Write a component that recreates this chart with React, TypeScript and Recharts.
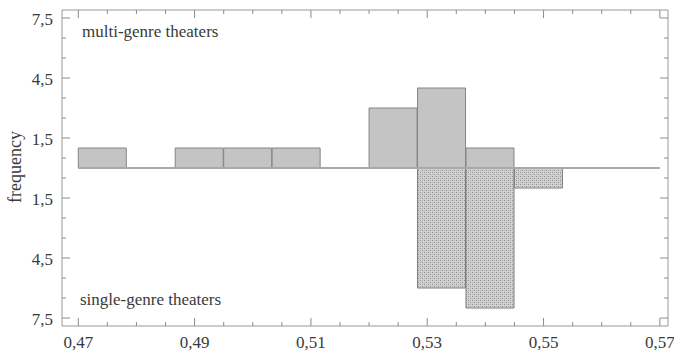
import React from 'react';
import { ComposedChart, Bar, XAxis, YAxis, ReferenceLine, Customized } from 'recharts';

// Histogram bins (centres of 12 equal bins between 0.47 and 0.57)
const binCenters = [0.474167, 0.4825, 0.490833, 0.499167, 0.5075, 0.515833, 0.524167, 0.5325, 0.540833, 0.549167, 0.5575, 0.565833];
const multiGenre = [1, 0, 1, 1, 1, 0, 3, 4, 1, 0, 0, 0];
const singleGenre = [0, 0, 0, 0, 0, 0, 0, -6, -7, -1, 0, 0];

const xMajorTicks = [0.47, 0.49, 0.51, 0.53, 0.55, 0.57];
const xMinorTicks = [0.475, 0.48, 0.485, 0.495, 0.5, 0.505, 0.515, 0.52, 0.525, 0.535, 0.54, 0.545, 0.555, 0.56, 0.565];
const yMajorTicks = [-7.5, -4.5, -1.5, 1.5, 4.5, 7.5];
const yMinorTicks = [-6.5, -5.5, -3.5, -2.5, -0.5, 0.5, 2.5, 3.5, 5.5, 6.5];

const data = binCenters.map((x, i) => ({
  x,
  multi: multiGenre[i] !== 0 ? multiGenre[i] : null,
  single: singleGenre[i] !== 0 ? singleGenre[i] : null,
}));

const allX = [...xMajorTicks, ...xMinorTicks].sort((a, b) => a - b);
const allY = [...yMajorTicks, ...yMinorTicks].sort((a, b) => a - b);

const X_DOMAIN: [number, number] = [0.4672, 0.5714];
const Y_DOMAIN: [number, number] = [-7.9, 7.9];

const AXIS = '#999999';
const TICK = '#8c8c8c';
const TEXT = '#3a3a3a';
const FONT = 'Liberation Serif, DejaVu Serif, Times New Roman, serif';
const textStyle: React.CSSProperties = { fontFamily: FONT, fontSize: 17, fill: TEXT };
const tickStyle: React.CSSProperties = { stroke: TICK, strokeWidth: 1 };

const isIn = (arr: number[], v: number) => arr.some((a) => Math.abs(a - v) < 1e-6);
const fmt = (v: number, d: number) => Math.abs(v).toFixed(d).replace('.', ',');

const BottomTick = (props: any) => {
  const { x, y, payload } = props;
  const major = isIn(xMajorTicks, payload.value);
  return (
    <g>
      <line x1={x} x2={x} y1={y} y2={y - (major ? 8 : 4)} style={tickStyle} />
      {major && (
        <text x={x} y={y + 22} textAnchor="middle" style={textStyle}>
          {fmt(payload.value, 2)}
        </text>
      )}
    </g>
  );
};

const TopTick = (props: any) => {
  const { x, y, payload } = props;
  const major = isIn(xMajorTicks, payload.value);
  return <line x1={x} x2={x} y1={y} y2={y + (major ? 8 : 4)} style={tickStyle} />;
};

const LeftTick = (props: any) => {
  const { x, y, payload } = props;
  const major = isIn(yMajorTicks, payload.value);
  return (
    <g>
      <line x1={x} x2={x + (major ? 8 : 4)} y1={y} y2={y} style={tickStyle} />
      {major && (
        <text x={x - 9} y={y + 7} textAnchor="end" style={textStyle}>
          {fmt(payload.value, 1)}
        </text>
      )}
    </g>
  );
};

const RightTick = (props: any) => {
  const { x, y, payload } = props;
  const major = isIn(yMajorTicks, payload.value);
  return <line x1={x} x2={x - (major ? 8 : 4)} y1={y} y2={y} style={tickStyle} />;
};

const Extras = () => (
  <g>
    <defs>
      <pattern id="hatch" width="4" height="4" patternUnits="userSpaceOnUse">
        <rect width="4" height="4" fill="#d2d2d2" />
        <rect x="0" y="0" width="1" height="1" fill="#8e8e8e" />
        <rect x="2" y="2" width="1" height="1" fill="#8e8e8e" />
        <rect x="2" y="0" width="1" height="1" fill="#b4b4b4" />
        <rect x="0" y="2" width="1" height="1" fill="#b4b4b4" />
      </pattern>
    </defs>
    <text x={82} y={37} style={textStyle}>multi-genre theaters</text>
    <text x={80} y={305} style={textStyle}>single-genre theaters</text>
    <text x={0} y={0} transform="translate(21,167) rotate(-90)" textAnchor="middle" style={{ ...textStyle, fontSize: 18 }}>
      frequency
    </text>
  </g>
);

export default function App() {
  return (
    <div style={{ position: 'absolute', left: 0, top: 0, width: 674, height: 351, background: '#fff' }}>
      <ComposedChart
        width={674}
        height={351}
        data={data}
        margin={{ top: 9, right: 5, bottom: 0, left: 0 }}
        barCategoryGap={0}
        barGap={0}
        stackOffset="sign"
      >
        <Customized component={Extras} />
        <XAxis xAxisId="b" type="number" dataKey="x" domain={X_DOMAIN} ticks={allX} interval={0} allowDataOverflow height={25}
          tickSize={0} tickMargin={0} tickLine={false} tick={<BottomTick />} axisLine={{ stroke: AXIS }} />
        <XAxis xAxisId="t" orientation="top" type="number" dataKey="x" domain={X_DOMAIN} ticks={allX} interval={0} allowDataOverflow height={1}
          tickSize={0} tickMargin={0} tickLine={false} tick={<TopTick />} axisLine={{ stroke: AXIS }} />
        <YAxis yAxisId="l" type="number" domain={Y_DOMAIN} ticks={allY} interval={0} allowDataOverflow width={62}
          tickSize={0} tickMargin={0} tickLine={false} tick={<LeftTick />} axisLine={{ stroke: AXIS }} />
        <YAxis yAxisId="r" orientation="right" type="number" domain={Y_DOMAIN} ticks={allY} interval={0} allowDataOverflow width={1}
          tickSize={0} tickMargin={0} tickLine={false} tick={<RightTick />} axisLine={{ stroke: AXIS }} />
        <ReferenceLine xAxisId="b" yAxisId="l" segment={[{ x: 0.47, y: 0 }, { x: 0.57, y: 0 }]} stroke="#a8a8a8" strokeWidth={2} />
        <Bar xAxisId="b" yAxisId="l" dataKey="multi" stackId="s" fill="#c4c4c4" stroke="#858585" strokeWidth={1} isAnimationActive={false} />
        <Bar xAxisId="b" yAxisId="l" dataKey="single" stackId="s" fill="url(#hatch)" stroke="#7e7e7e" strokeWidth={1} isAnimationActive={false} />
      </ComposedChart>
    </div>
  );
}
